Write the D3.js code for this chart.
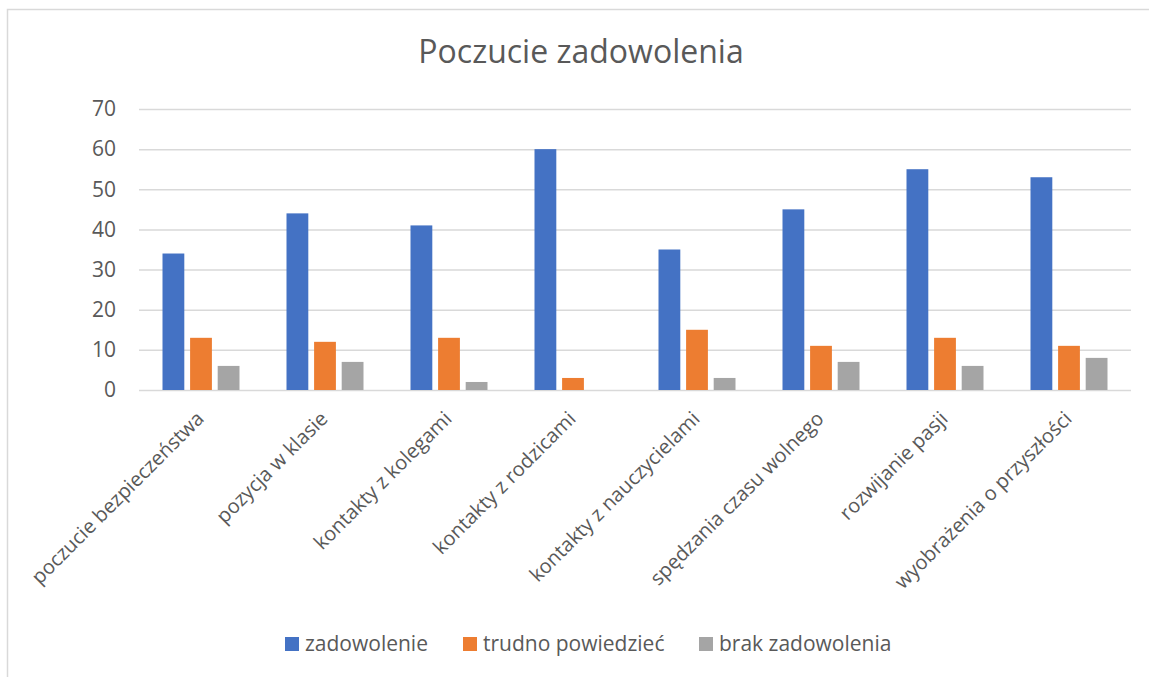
<!DOCTYPE html>
<html>
<head>
<meta charset="utf-8">
<script src="https://cdn.jsdelivr.net/npm/d3@7"></script>
<style>
	body { margin: 0; background: #fff; }
	text { font-family: 'Open Sans', 'Noto Sans', sans-serif; fill: #595959; }
</style>
</head>
<body>
<div id="chart"></div>
<script>
let width = 1149
let height = 677

let categories = ['poczucie bezpieczeństwa', 'pozycja w klasie', 'kontakty z kolegami', 'kontakty z rodzicami',
	'kontakty z nauczycielami', 'spędzania czasu wolnego', 'rozwijanie pasji', 'wyobrażenia o przyszłości']
let seriesNames = ['zadowolenie', 'trudno powiedzieć', 'brak zadowolenia']
let zadowolenie = [34, 44, 41, 60, 35, 45, 55, 53]
let trudno = [13, 12, 13, 3, 15, 11, 13, 11]
let brak = [6, 7, 2, 0, 3, 7, 6, 8]
let yTicks = [0, 10, 20, 30, 40, 50, 60, 70]
let colors = ['#4472C4', '#ED7D31', '#A5A5A5']

let margins = {
	top : 109,
	right : 18,
	bottom : 287,
	left : 139,
}

let values = [zadowolenie, trudno, brak]
let rows = categories.map((c, i) => {
	return { cat : c, vals : seriesNames.map((s, j) => ({ key : s, value : values[j][i], idx : j })) }
})

let xScale = d3.scaleBand()
	.domain(categories)
	.range([margins.left, width - margins.right])
	.paddingInner(0)

let x1 = d3.scaleBand()
	.domain(seriesNames)
	.range([23.5, xScale.bandwidth() - 23.5])
	.paddingInner(0.21)

let yScale = d3.scaleLinear()
	.domain([0, 70])
	.range([height - margins.bottom, margins.top])

let svg = d3.select('#chart').append('svg')
	.attr('width', width)
	.attr('height', height)

// chart frame
svg.append('rect')
	.attr('x', 7.5)
	.attr('y', 9.5)
	.attr('width', width)
	.attr('height', height)
	.attr('fill', 'none')
	.attr('stroke', '#d9d9d9')
	.attr('stroke-width', 1.5)

svg.append('text')
	.text('Poczucie zadowolenia')
	.attr('x', 581)
	.attr('y', 63)
	.attr('text-anchor', 'middle')
	.style('font-size', '32px')

// gridlines + y labels
let yAxis = d3.axisLeft(yScale)
	.tickValues(yTicks)
	.tickSize(-(width - margins.left - margins.right))
	.tickPadding(23)

let yG = svg.append('g')
	.attr('transform', `translate(${margins.left},0)`)
	.call(yAxis)
yG.select('.domain').remove()
yG.selectAll('line').attr('stroke', '#d9d9d9').attr('stroke-width', 1.5)
yG.selectAll('text').style('font-size', '21px').attr('fill', '#595959')

let groups = svg.append('g').selectAll('g')
	.data(rows)
	.enter()
	.append('g')
	.attr('transform', (d) => `translate(${xScale(d.cat)},0)`)

groups.selectAll('rect')
	.data((d) => d.vals)
	.enter()
	.append('rect')
	.attr('x', (d) => x1(d.key))
	.attr('width', x1.bandwidth())
	.attr('y', (d) => yScale(d.value))
	.attr('height', (d) => yScale(0) - yScale(d.value))
	.attr('fill', (d) => colors[d.idx])

// category labels
svg.append('g').selectAll('text')
	.data(categories)
	.enter()
	.append('text')
	.text((d) => d)
	.attr('text-anchor', 'end')
	.attr('transform', (d) => `translate(${xScale(d) + xScale.bandwidth() / 2 + 4},${420}) rotate(-45)`)
	.style('font-size', '20px')

// legend
let legendX = [285, 463, 699]
let legend = svg.append('g').selectAll('g')
	.data(seriesNames)
	.enter()
	.append('g')
	.attr('transform', (d, i) => `translate(${legendX[i]},637)`)

legend.append('rect')
	.attr('width', 14)
	.attr('height', 14)
	.attr('fill', (d, i) => colors[i])

legend.append('text')
	.text((d) => d)
	.attr('x', 20)
	.attr('y', 14)
	.style('font-size', '21px')
</script>
</body>
</html>
